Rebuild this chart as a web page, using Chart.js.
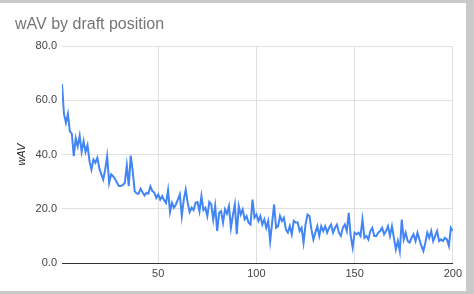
<!DOCTYPE html>
<html>
<head>
<meta charset="utf-8">
<script src="https://cdn.jsdelivr.net/npm/chart.js@4/dist/chart.umd.min.js"></script>
<style>
    html, body {
        margin: 0;
        padding: 0;
        width: 474px;
        height: 294px;
        background: #c9c9c9;
        overflow: hidden;
    }
    #panel {
        position: absolute;
        left: 0;
        top: 3px;
        width: 466px;
        height: 288px;
        background: #ffffff;
    }
</style>
</head>
<body>
<div id="panel">
    <canvas id="wav-chart" width="466" height="288"></canvas>
</div>
<script>
// Draft positions 1..200 (x categories)
const draftPositions = Array.from({ length: 200 }, (_, i) => i + 1);

// wAV per draft position
const wavValues = [
    66, 55, 51.7, 55, 48.6, 47.7, 39.4, 46, 43, 47,
    41, 45, 41, 43.5, 37.6, 34.5, 38.2, 37, 38.8, 35,
    32.7, 30.8, 34.5, 39.4, 29.6, 32.7, 32, 31, 29.6, 28.4,
    28.4, 28.8, 29.6, 36, 28.4, 39.6, 33.9, 26.5, 25.7, 25.5,
    27.4, 26.1, 24.9, 25.9, 25.6, 28.3, 26.5, 26, 24, 25.3,
    23.4, 24.7, 23.2, 22.2, 26.9, 18.8, 22.2, 20.4, 21.6, 23.4,
    25.3, 17.3, 23.4, 27.1, 22.2, 18.8, 20.4, 19.5, 22.2, 22.5,
    19.1, 24.7, 19.5, 20.4, 17.3, 22.5, 21.6, 16, 21, 11.8,
    18.5, 19.1, 14.9, 19.8, 18.2, 21, 13, 17.6, 21.6, 10.6,
    21, 17.9, 19.8, 16.1, 17.3, 14.9, 14.2, 23.4, 16.7, 17.9,
    15.5, 17.3, 14.2, 16.1, 13, 15.5, 8.1, 14.9, 21.6, 13,
    13.6, 17.3, 15.5, 16.7, 12.4, 11.2, 13.6, 10.6, 15.5, 14.9,
    14.9, 11.8, 13, 7.5, 14.2, 17.9, 17.3, 12.4, 8.7, 11.2,
    13.6, 10, 13.6, 11.8, 13.6, 11.2, 13, 14.2, 11.2, 13,
    14.2, 11.2, 10, 13, 14.2, 11.8, 18.5, 10, 5.7, 11.2,
    10.6, 11.2, 10, 16.1, 9.3, 10, 8.7, 11.8, 13, 10,
    10, 11.2, 11.8, 13, 10.6, 11.8, 13.6, 10, 13.6, 9.3,
    5, 8.1, 4.4, 16, 8.7, 11.2, 8.1, 7.5, 9.3, 10.6,
    8.1, 11.2, 8.7, 6.3, 4.4, 7.5, 11.2, 9.3, 11.8, 8.1,
    10, 11.8, 8.1, 8.7, 8.1, 9.3, 8.7, 6.3, 13, 11.8
];

// Axis ticks
const xTickValues = [50, 100, 150, 200];
const yTickValues = [0, 20, 40, 60, 80];

const FONT = 'Arial, "Liberation Sans", sans-serif';

document.addEventListener('DOMContentLoaded', function() {
    drawChart();
});

/**
 * Build the wAV line chart
 */
function drawChart() {
    const ctx = document.getElementById('wav-chart').getContext('2d');
    const points = draftPositions.map((pos, i) => ({ x: pos, y: wavValues[i] }));

    new Chart(ctx, {
        type: 'line',
        data: {
            datasets: [{
                label: 'wAV',
                data: points,
                borderColor: '#4285f4',
                borderWidth: 2,
                pointRadius: 0,
                tension: 0,
                fill: false
            }]
        },
        options: {
            responsive: false,
            animation: false,
            devicePixelRatio: 1,
            layout: {
                padding: { left: 15, right: 0, top: 0, bottom: 0 }
            },
            plugins: {
                legend: { display: false },
                tooltip: { enabled: false },
                title: {
                    display: true,
                    text: 'wAV by draft position',
                    align: 'start',
                    color: '#757575',
                    font: { family: FONT, size: 16, weight: 'normal' },
                    padding: { top: 12, bottom: 12 }
                }
            },
            scales: {
                x: {
                    type: 'linear',
                    min: 1,
                    max: 200,
                    afterBuildTicks: function(axis) {
                        axis.ticks = xTickValues.map(v => ({ value: v }));
                    },
                    afterFit: function(axis) {
                        axis.height = 28;
                    },
                    ticks: {
                        color: '#444444',
                        font: { family: FONT, size: 11 },
                        padding: 4,
                        maxRotation: 0
                    },
                    grid: {
                        color: '#e0e0e0',
                        drawTicks: false
                    },
                    border: { display: true, color: '#333333', width: 1 }
                },
                y: {
                    min: 0,
                    max: 80,
                    afterBuildTicks: function(axis) {
                        axis.ticks = yTickValues.map(v => ({ value: v }));
                    },
                    afterFit: function(axis) {
                        axis.width = 47;
                    },
                    title: {
                        display: true,
                        text: 'wAV',
                        color: '#222222',
                        font: { family: FONT, size: 11, style: 'italic' },
                        padding: 0
                    },
                    ticks: {
                        color: '#444444',
                        font: { family: FONT, size: 11 },
                        padding: 5,
                        callback: v => v.toFixed(1)
                    },
                    grid: {
                        color: ctx => ctx.tick && ctx.tick.value === 0 ? '#333333' : '#e0e0e0',
                        drawTicks: false
                    },
                    border: { display: false }
                }
            }
        }
    });
}
</script>
</body>
</html>
